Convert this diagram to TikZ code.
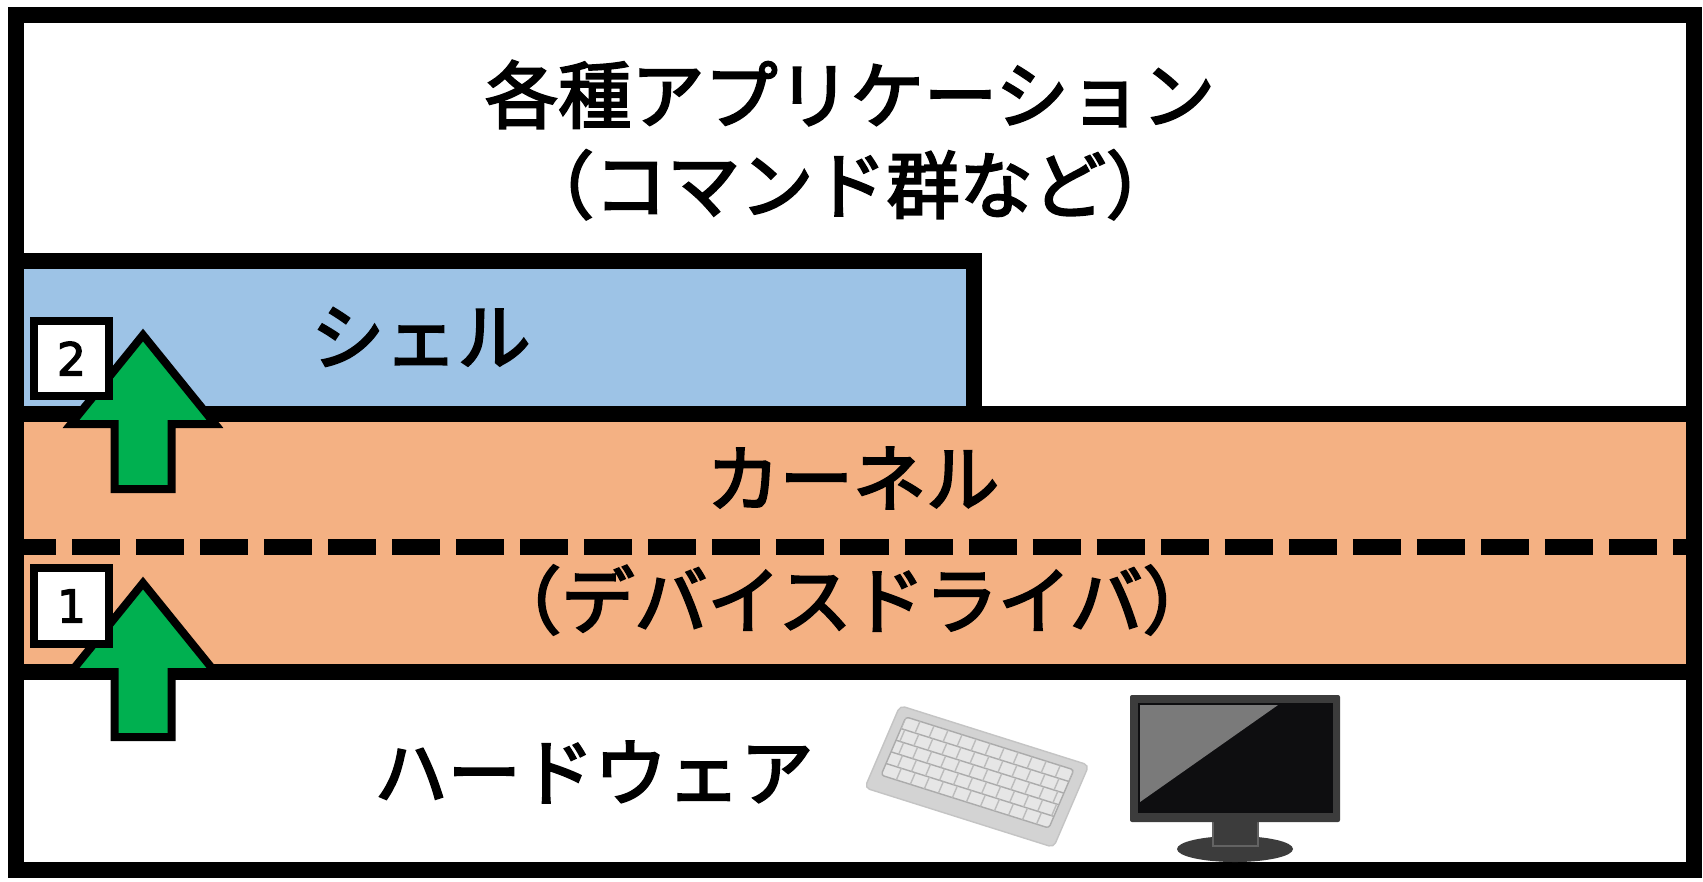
\documentclass[tikz,border=0pt]{standalone}
\usepackage{fontspec}
\newfontfamily\jp[FakeBold=3]{Noto Sans CJK JP}
\newfontfamily\num[FakeBold=3]{DejaVu Sans}
\usetikzlibrary{positioning}

\definecolor{shellblue}{HTML}{9DC3E6}
\definecolor{kernorange}{HTML}{F4B183}
\definecolor{upgreen}{HTML}{00B050}
\definecolor{kbbody}{HTML}{D3D3D3}
\definecolor{kbkeys}{HTML}{E6E6E6}
\definecolor{kbline}{HTML}{ABABAB}
\definecolor{bezel}{HTML}{3C3C3C}
\definecolor{screen}{HTML}{0E0E10}
\definecolor{glare}{HTML}{7A7A7A}

\begin{document}
\begin{tikzpicture}[
    x=0.01cm, y=-0.01cm,
    frame/.style={draw=black, line width=0.16cm},
    lbl/.style={font=\jp\fontsize{20.8}{25.6}\selectfont, align=center, inner sep=0pt},
    numbox/.style={draw, line width=0.08cm, fill=white, minimum size=0.75cm,
                   inner sep=0pt, font=\num\fontsize{12.9}{14}\selectfont},
    uparrow/.pic={\draw[line width=0.08cm, fill=upgreen]
        (0,0) -- (72,89) -- (28.5,89) -- (28.5,154) -- (-28.5,154) -- (-28.5,89) -- (-72,89) -- cycle;}
]
% background / page size
\fill[white] (0,0) rectangle (1703,881);

% layers
\fill[shellblue] (16,261) rectangle (974,414);
\fill[kernorange] (16,414) rectangle (1694,672);
\draw[frame] (16,261) rectangle (974,414);
\draw[frame] (16,414) rectangle (1694,672);
\draw[frame] (16,15) rectangle (1694,870);
\draw[line width=0.16cm, dash pattern=on 0.48cm off 0.16cm] (8,547) -- (1694,547);

% labels
\node[lbl] (apps) at (850,140) {各種アプリケーション\\（コマンド群など）};
\node[lbl] (shell) at (421,337) {シェル};
\node[lbl] (kernel) at (853,478) {カーネル};
\node[lbl] (driver) at (852,600) {（デバイスドライバ）};
\node[lbl] (hw) at (594,772) {ハードウェア};

% keyboard
\begin{scope}[shift={(977,776)}, rotate=-17.5, xslant=0.1]
  \draw[kbline!70, fill=kbbody, rounded corners=0.05cm] (-99,-44) rectangle (99,45);
  \draw[kbline, fill=kbkeys, rounded corners=0.03cm] (-89,-35) rectangle (87,28);
  \begin{scope}
    \clip (-89,-35) rectangle (87,28);
    \foreach \r in {1,...,4}
      \draw[kbline] (-89,-35+\r*12.6) -- (87,-35+\r*12.6);
    \foreach \r in {0,...,4}
      \foreach \c in {0,...,12}
        \draw[kbline!80] (-89+\r*4+\c*14.7,-35+\r*12.6) -- ++(0,12.6);
  \end{scope}
\end{scope}

% monitor
\fill[bezel] (1235,849) ellipse (58 and 13);
\draw[bezel!80, fill=bezel] (1213,820) rectangle (1258,846);
\fill[bezel, rounded corners=0.02cm] (1130,695) rectangle (1340,822);
\fill[screen] (1138,703) rectangle (1333,813);
\fill[glare] (1140,705) -- (1278,705) -- (1140,802) -- cycle;

% up arrows with step numbers
\pic (up1) at (143,583) {uparrow};
\pic (up2) at (143,335) {uparrow};
\node[numbox] (n1) at (71.5,606) {1};
\node[numbox] (n2) at (71.5,358.5) {2};
\end{tikzpicture}
\end{document}
